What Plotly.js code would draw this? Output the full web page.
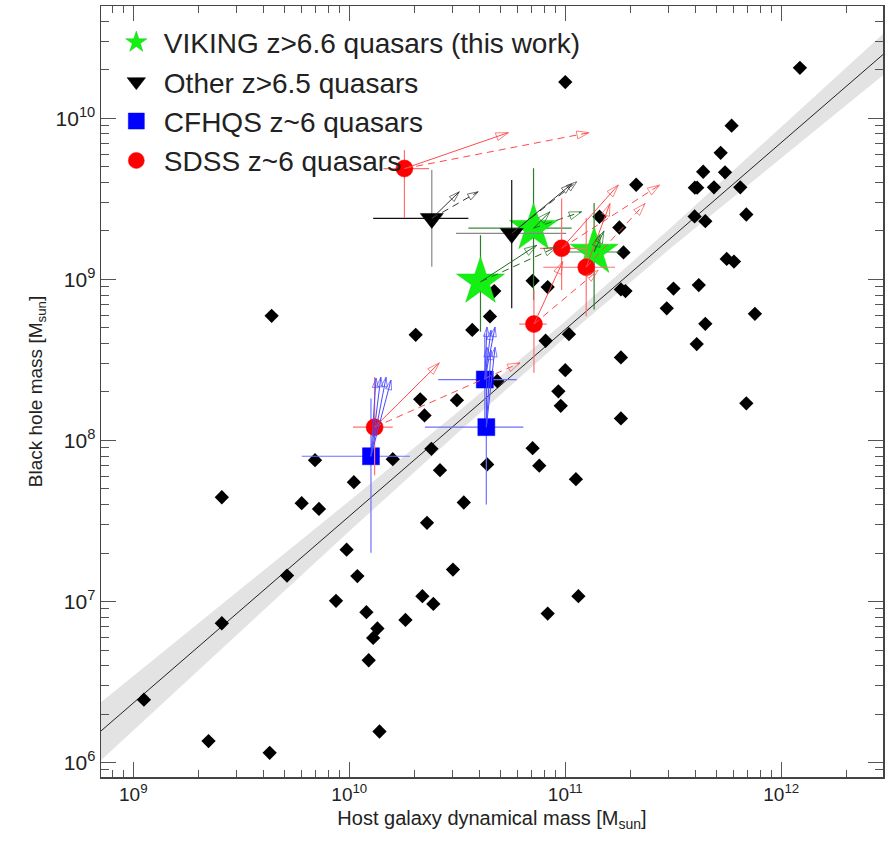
<!DOCTYPE html>
<html>
<head>
<meta charset="utf-8">
<script src="https://cdn.plot.ly/plotly-3.0.1.min.js"></script>
<style>html,body{margin:0;padding:0;background:#fff;}#chart{width:892px;height:852px;}</style>
</head>
<body>
<div id="chart"></div>
<script>
// ---------- Data ----------
// Literature sample (black diamonds)
const litMdyn = [1.12e9,2.23e9,2.57e9,2.57e9,4.28e9,4.37e9,5.15e9,6.02e9,6.94e9,7.24e9,
  9.72e9,1.05e10,8.68e9,1.09e10,1.20e10,1.23e10,1.29e10,1.35e10,1.38e10,1.59e10,
  1.82e10,2.03e10,2.13e10,2.18e10,2.23e10,2.29e10,2.40e10,2.45e10,2.63e10,3.02e10,
  3.15e10,3.39e10,3.71e10,4.35e10,4.48e10,4.69e10,4.84e10,7.06e10,7.06e10,7.58e10,
  8.11e10,8.29e10,8.29e10,9.29e10,9.53e10,1.00e11,1.00e11,1.04e11,1.12e11,1.15e11,
  1.44e11,1.78e11,1.81e11,1.90e11,1.81e11,1.81e11,1.86e11,2.13e11,2.95e11,3.17e11,
  3.97e11,3.98e11,4.08e11,4.06e11,4.15e11,4.35e11,4.45e11,4.45e11,4.88e11,5.24e11,
  5.49e11,5.59e11,5.89e11,6.04e11,6.46e11,6.89e11,6.89e11,7.55e11,1.22e12];
const litMbh = [2.46e6,1.36e6,4.44e7,7.33e6,1.15e6,5.94e8,1.45e7,4.08e7,7.55e7,3.76e7,
  2.10e7,5.51e7,1.01e7,1.44e7,8.59e6,4.32e6,5.94e6,6.80e6,1.56e6,7.65e7,
  7.69e6,4.53e8,1.80e8,1.08e7,1.43e8,3.08e7,8.87e7,9.66e6,6.54e7,1.58e7,
  1.78e8,4.12e7,4.86e8,7.10e7,5.89e8,8.46e8,2.34e8,9.80e8,8.96e7,6.97e7,
  4.16e8,8.96e8,8.42e6,2.02e8,1.64e8,1.68e10,2.73e8,4.57e8,5.75e7,1.08e7,
  2.45e9,2.10e9,8.67e8,8.46e8,3.28e8,1.37e8,1.47e9,3.87e9,6.61e8,8.77e8,
  2.46e9,3.71e9,3.71e9,3.97e8,9.22e8,4.66e9,2.30e9,5.30e8,3.73e9,6.11e9,
  4.62e9,1.34e9,9.00e9,1.29e9,3.73e9,2.53e9,1.70e8,6.11e8,2.06e10];

// Local relation (line) and its uncertainty band
const relMdyn = [7e8, 3e12];
const relMbh  = [1.55e6, 2.53e10];
const bandMdyn = [7e8, 3.16e9, 1e10, 3.16e10, 1e11, 3.16e11, 1e12, 3e12];
const bandHi   = [2.34e6, 1.20e7, 4.21e7, 1.49e8, 5.50e8, 2.16e9, 8.79e9, 3.40e10];
const bandLo   = [1.02e6, 6.61e6, 2.73e7, 1.11e8, 4.37e8, 1.61e9, 5.70e9, 1.88e10];

// VIKING z>6.6 quasars (green stars)
const vikMdyn = [4.05e10, 7.13e10, 1.36e11];
const vikMdynLo = [4.05e10, 3.56e10, 8.95e10];
const vikMdynHi = [4.05e10, 1.07e11, 1.79e11];
const vikMbh = [9.66e8, 2.08e9, 1.48e9];
const vikMbhLo = [4.73e8, 7.43e8, 6.51e8];
const vikMbhHi = [1.88e9, 4.90e9, 2.98e9];

// Other z>6.5 quasars (black triangles)
const othMdyn = [2.41e10, 5.65e10];
const othMdynLo = [1.29e10, 3.12e10];
const othMdynHi = [3.56e10, 1.01e11];
const othMbh = [2.39e9, 1.93e9];
const othMbhLo = [1.20e9, 6.61e8];
const othMbhHi = [4.78e9, 4.14e9];

// CFHQS z~6 quasars (blue squares)
const cfhMdyn = [1.26e10, 4.24e10, 4.31e10];
const cfhMdynLo = [6.03e9, 2.58e10, 2.24e10];
const cfhMdynHi = [1.91e10, 5.96e10, 6.40e10];
const cfhMbh = [7.98e7, 2.39e8, 1.21e8];
const cfhMbhLo = [2.01e7, 1.20e8, 4.00e7];
const cfhMbhHi = [1.82e8, 4.60e8, 2.30e8];

// SDSS z~6 quasars (red circles)
const sdsMdyn = [1.80e10, 9.62e10, 1.25e11, 7.16e10, 1.31e10];
const sdsMdynLo = [1.44e10, 7.64e10, 7.91e10, 6.12e10, 1.04e10];
const sdsMdynHi = [2.34e10, 1.23e11, 1.70e11, 8.20e10, 1.59e10];
const sdsMbh = [4.88e9, 1.56e9, 1.19e9, 5.28e8, 1.21e8];
const sdsMbhLo = [2.41e9, 8.60e8, 5.90e8, 2.63e8, 6.08e7];
const sdsMbhHi = [6.35e9, 3.18e9, 2.40e9, 8.60e8, 2.48e8];

// Arrow end points (start = the quasar itself)
const sdsArrSolidMdyn = [5.45e10, 1.76e11, 1.61e11, 9.73e10, 2.61e10];
const sdsArrSolidMbh  = [8.15e9, 3.86e9, 2.96e9, 1.29e9, 3.03e8];
const sdsArrDashMdyn  = [1.29e11, 2.74e11, 2.34e11, 1.42e11, 6.17e10];
const sdsArrDashMbh   = [8.15e9, 3.86e9, 2.96e9, 1.14e9, 3.03e8];
const vikArrSolidMdyn = [7.38e10, 8.49e10, 1.51e11];
const vikArrSolidMbh  = [1.63e9, 2.63e9, 2.00e9];
const vikArrDashMdyn  = [9.12e10, 1.19e11, 1.45e11];
const vikArrDashMbh   = [1.59e9, 2.63e9, 1.90e9];
const othArrSolidMdyn = [3.23e10, 1.07e11];
const othArrSolidMbh  = [3.50e9, 3.91e9];
const othArrDashMdyn  = [3.95e10, 1.13e11];
const othArrDashMbh   = [3.50e9, 4.04e9];
const cfhArrFrom = [0, 0, 0, 0, 1, 1, 1, 2, 2, 2];
const cfhArrMdyn = [1.33e10, 1.40e10, 1.48e10, 1.56e10, 4.34e10, 4.53e10, 4.73e10, 4.34e10, 4.53e10, 4.73e10];
const cfhArrMbh  = [2.44e8, 2.47e8, 2.47e8, 2.37e8, 5.06e8, 4.84e8, 5.06e8, 3.79e8, 3.64e8, 3.79e8];

const xTickVals = [1e9, 1e10, 1e11, 1e12];
const xTickText = ['10<sup>9</sup>', '10<sup>10</sup>', '10<sup>11</sup>', '10<sup>12</sup>'];
const yTickVals = [1e6, 1e7, 1e8, 1e9, 1e10];
const yTickText = ['10<sup>6</sup>', '10<sup>7</sup>', '10<sup>8</sup>', '10<sup>9</sup>', '10<sup>10</sup>'];

// ---------- helpers ----------
function minorVals(d0, d1) {
  const v = [];
  for (let d = d0; d <= d1; d++) for (let m = 2; m <= 9; m++) v.push(m * Math.pow(10, d));
  return v;
}
function errs(val, lo, hi) {
  return {plus: val.map((v, i) => hi[i] - v), minus: val.map((v, i) => v - lo[i])};
}
function arrowTrace(x0, y0, x1, y1, color, dash, headSize) {
  const x = [], y = [], sz = [], sym = [];
  for (let i = 0; i < x1.length; i++) {
    x.push(x0[i], x1[i], null); y.push(y0[i], y1[i], null);
    sz.push(0, headSize || 13, 0); sym.push('circle', 'arrow-open', 'circle');
  }
  return {type: 'scatter', mode: 'lines+markers', x, y, showlegend: false, hoverinfo: 'skip',
    line: {color, width: 1, dash: dash || 'solid', backoff: 0},
    marker: {size: sz, symbol: sym, angleref: 'previous', color, line: {color, width: 1}}};
}
function qsoTrace(name, x, xlo, xhi, y, ylo, yhi, symbol, size, color, ecolX, ecolY, showlegend, lineCol) {
  const ex = errs(x, xlo, xhi), ey = errs(y, ylo, yhi);
  return {type: 'scatter', mode: 'markers', name, x, y, showlegend, legendgroup: name,
    error_x: {type: 'data', symmetric: false, array: ex.plus, arrayminus: ex.minus, color: ecolX, thickness: 1.2, width: 0},
    error_y: {type: 'data', symmetric: false, array: ey.plus, arrayminus: ey.minus, color: ecolY, thickness: 1.2, width: 0},
    marker: {symbol, size, color, line: {color: lineCol || color, width: 0.5}}};
}

const traces = [];
// band
traces.push({type: 'scatter', mode: 'lines', x: bandMdyn, y: bandLo, line: {width: 0, color: 'rgba(0,0,0,0)'}, showlegend: false, hoverinfo: 'skip'});
traces.push({type: 'scatter', mode: 'lines', x: bandMdyn, y: bandHi, fill: 'tonexty', fillcolor: '#e3e3e3', line: {width: 0, color: 'rgba(0,0,0,0)'}, showlegend: false, hoverinfo: 'skip'});
// relation
traces.push({type: 'scatter', mode: 'lines', x: relMdyn, y: relMbh, line: {color: '#222', width: 1}, showlegend: false});
// literature
traces.push({type: 'scatter', mode: 'markers', x: litMdyn, y: litMbh, showlegend: false, name: 'local',
  marker: {symbol: 'diamond', size: 11, color: '#000'}});

// quasars
traces.push(qsoTrace('VIKING z>6.6 quasars (this work)', vikMdyn, vikMdynLo, vikMdynHi, vikMbh, vikMbhLo, vikMbhHi, 'star', 36, '#14f014', '#3a8a3a', '#2e7d2e', true, '#10d010'));
traces.push(qsoTrace('Other z>6.5 quasars', [othMdyn[0]], [othMdynLo[0]], [othMdynHi[0]], [othMbh[0]], [othMbhLo[0]], [othMbhHi[0]], 'triangle-down', 20, '#000', '#111', '#888', true));
traces.push(qsoTrace('Other z>6.5 quasars', [othMdyn[1]], [othMdynLo[1]], [othMdynHi[1]], [othMbh[1]], [othMbhLo[1]], [othMbhHi[1]], 'triangle-down', 20, '#000', '#888', '#111', false));
traces.push(qsoTrace('CFHQS z~6 quasars', cfhMdyn, cfhMdynLo, cfhMdynHi, cfhMbh, cfhMbhLo, cfhMbhHi, 'square', 17, '#0000ff', '#6f6fff', '#6f6fff', true));
traces.push(qsoTrace('SDSS z~6 quasars', sdsMdyn, sdsMdynLo, sdsMdynHi, sdsMbh, sdsMbhLo, sdsMbhHi, 'circle', 17, '#ff0000', '#ff7070', '#ff7070', true));

// arrows
const dashPat = '7px,5px';
traces.push(arrowTrace(sdsMdyn, sdsMbh, sdsArrSolidMdyn, sdsArrSolidMbh, '#ff4a4a', 'solid'));
traces.push(arrowTrace(sdsMdyn, sdsMbh, sdsArrDashMdyn, sdsArrDashMbh, '#ff4a4a', dashPat));
traces.push(arrowTrace(vikMdyn, vikMbh, vikArrSolidMdyn, vikArrSolidMbh, '#1f6b1f', 'solid'));
traces.push(arrowTrace(vikMdyn, vikMbh, vikArrDashMdyn, vikArrDashMbh, '#1f6b1f', dashPat));
traces.push(arrowTrace(othMdyn, othMbh, othArrSolidMdyn, othArrSolidMbh, '#333', 'solid', 11));
traces.push(arrowTrace(othMdyn, othMbh, othArrDashMdyn, othArrDashMbh, '#333', dashPat, 11));
traces.push(arrowTrace(cfhArrFrom.map(i => cfhMdyn[i]), cfhArrFrom.map(i => cfhMbh[i]), cfhArrMdyn, cfhArrMbh, '#4a4aff', 'solid', 10));

const font = 'Liberation Sans, Arial, Helvetica, sans-serif';
const axisCommon = {
  type: 'log', showgrid: false, zeroline: false, showline: true, linecolor: '#444', linewidth: 1.5,
  mirror: 'ticks', ticks: 'inside', ticklen: 15, tickwidth: 1, tickcolor: '#555',
  tickmode: 'array', tickfont: {family: font, size: 19, color: '#222'}
};
const layout = {
  width: 892, height: 852,
  margin: {l: 101, r: 9, t: 6, b: 75},
  paper_bgcolor: '#fff', plot_bgcolor: '#fff',
  font: {family: font, color: '#222'},
  showlegend: true,
  legend: {x: 0.01, y: 0.985, xanchor: 'left', yanchor: 'top', bgcolor: 'rgba(255,255,255,0)',
    font: {family: font, size: 28, color: '#222'}, itemsizing: 'trace', itemwidth: 45, traceorder: 'normal'},
  xaxis: Object.assign({}, axisCommon, {
    range: [8.8505, 12.471], tickvals: xTickVals, ticktext: xTickText,
    minor: {ticks: 'inside', ticklen: 7, tickwidth: 1, tickcolor: '#555', tickmode: 'array', tickvals: minorVals(8, 12)},
    title: {text: 'Host galaxy dynamical mass [M<sub>sun</sub>]', font: {family: font, size: 20, color: '#222'}, standoff: 6}
  }),
  yaxis: Object.assign({}, axisCommon, {
    range: [5.9106, 10.6975], tickvals: yTickVals, ticktext: yTickText,
    tickfont: {family: font, size: 21, color: '#222'},
    minor: {ticks: 'inside', ticklen: 8, tickwidth: 1, tickcolor: '#555', tickmode: 'array', tickvals: minorVals(5, 10)},
    title: {text: 'Black hole mass [M<sub>sun</sub>]', font: {family: font, size: 19, color: '#222'}, standoff: 8}
  })
};
Plotly.newPlot('chart', traces, layout, {displayModeBar: false, staticPlot: true});
</script>
</body>
</html>
